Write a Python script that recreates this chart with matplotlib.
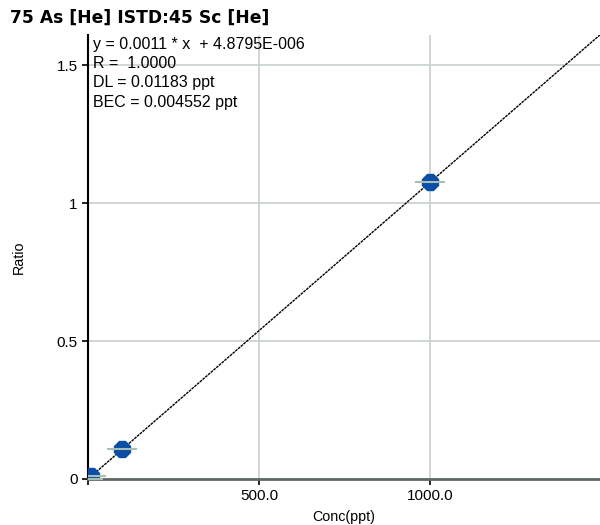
import matplotlib
matplotlib.use("Agg")
import matplotlib.pyplot as plt
import numpy as np

plt.rcParams['font.family'] = ['Liberation Sans', 'DejaVu Sans']

conc = [0, 10, 100, 1000]
ratio = [0.0000049, 0.0108, 0.1075, 1.0753]
slope = 0.0010752
intercept = 4.8795e-6
title = "75 As [He] ISTD:45 Sc [He]"
info = ["y = 0.0011 * x  + 4.8795E-006", "R =  1.0000", "DL = 0.01183 ppt", "BEC = 0.004552 ppt"]
yticks = [0, 0.5, 1, 1.5]
ytlabels = ["0", "0.5", "1", "1.5"]
xticks = [0, 500, 1000]
xtlabels = ["", "500.0", "1000.0"]

fig = plt.figure(figsize=(6, 5.25), dpi=100)
ax = fig.add_axes([88/600, 46/525, 512/600, 444/525])
ax.set_xlim(0, 1497)
ax.set_ylim(0, 1.609)

ax.grid(True, color='#c8d0d0', linewidth=1.2)
ax.set_axisbelow(True)
for s in ['top', 'right']:
    ax.spines[s].set_visible(False)
ax.spines['left'].set_color('black')
ax.spines['left'].set_linewidth(1.5)
ax.spines['bottom'].set_color('#606868')
ax.spines['bottom'].set_linewidth(2)

xs = np.array(ax.get_xlim())
ax.plot(xs, slope * xs + intercept, color='black', linewidth=1, linestyle=(0, (2, 0.6)), zorder=3)
ax.plot(conc, ratio, linestyle='none', marker='8', markersize=12, color='#0a4ea6', zorder=4)
ax.plot(conc, ratio, linestyle='none', marker='_', markersize=21, markeredgewidth=1.5, color='#a9bdb4', zorder=5)

ax.set_yticks(yticks)
ax.set_yticklabels(ytlabels)
ax.set_xticks(xticks)
ax.set_xticklabels(xtlabels)
ax.tick_params(axis='both', labelsize=11, color='black', length=4, width=1.2)
ax.set_ylabel("Ratio", fontsize=10.3, labelpad=22)
ax.set_xlabel("Conc(ppt)", fontsize=10.3, labelpad=5)

fig.text(10/600, 1 - 18/525, title, fontsize=12.3, fontweight='bold', va='center', ha='left',
         family=['DejaVu Sans'])
for i, t in enumerate(info):
    fig.text(93/600, 1 - (44 + 19.5 * i)/525, t, fontsize=11.5, va='center', ha='left')

fig.savefig("out.png", dpi=100)
